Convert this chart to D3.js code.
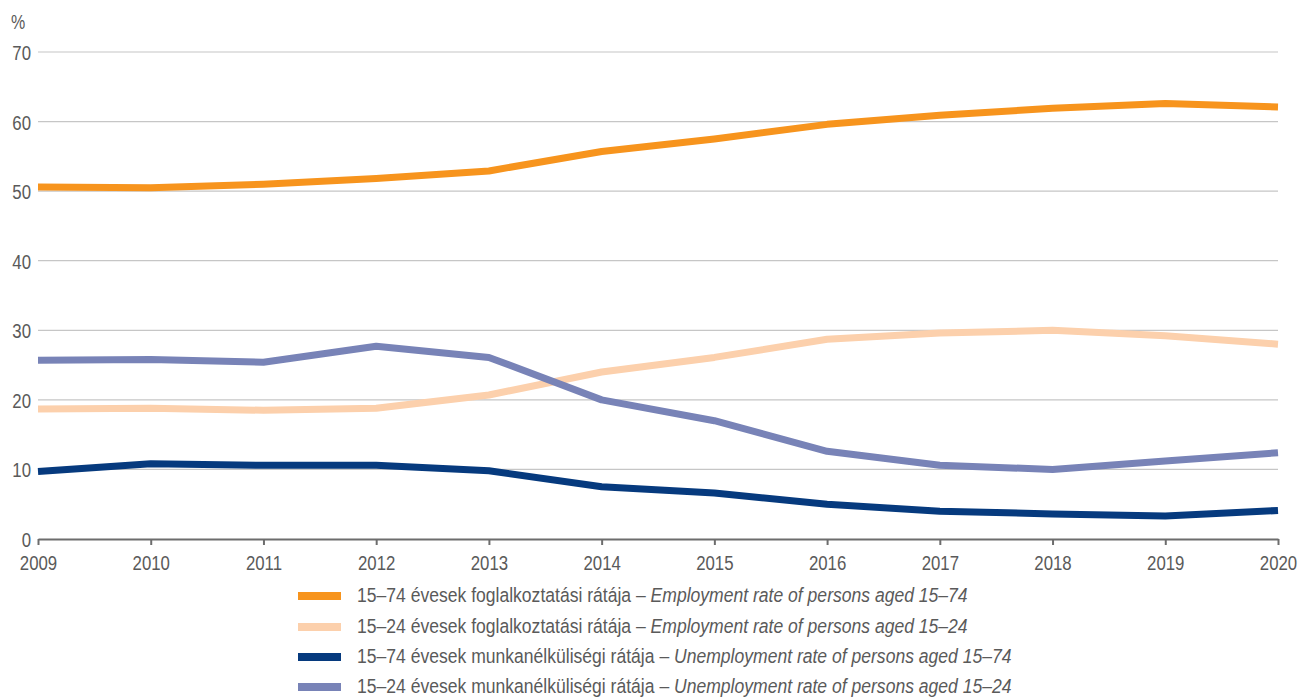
<!DOCTYPE html>
<html><head><meta charset="utf-8">
<script src="https://cdn.jsdelivr.net/npm/d3@7"></script>
<style>
html,body{margin:0;padding:0;background:#fff;}
svg{display:block;font-family:"Liberation Sans",Arial,sans-serif;}
</style></head>
<body><svg id="chart" width="1300" height="699"></svg>
<script>
const years = [2009,2010,2011,2012,2013,2014,2015,2016,2017,2018,2019,2020];
const emp1574 = [50.6,50.5,51.0,51.8,52.9,55.7,57.5,59.6,60.9,61.9,62.6,62.1];
const emp1524 = [18.7,18.8,18.5,18.8,20.7,24.0,26.1,28.7,29.6,30.0,29.2,28.0];
const unemp1574 = [9.7,10.8,10.6,10.6,9.8,7.5,6.6,5.0,4.0,3.6,3.3,4.1];
const unemp1524 = [25.7,25.8,25.4,27.7,26.1,20.0,17.0,12.6,10.6,10.0,11.2,12.4];
const yTicks = [0,10,20,30,40,50,60,70];
const seriesNamesHu = ["15–74 évesek foglalkoztatási rátája","15–24 évesek foglalkoztatási rátája","15–74 évesek munkanélküliségi rátája","15–24 évesek munkanélküliségi rátája"];
const seriesNamesEn = ["Employment rate of persons aged 15–74","Employment rate of persons aged 15–24","Unemployment rate of persons aged 15–74","Unemployment rate of persons aged 15–24"];
const colors = ["#f7941d","#fcd0ac","#063a7e","#7883b7"];

const series = [emp1574, emp1524, unemp1574, unemp1524];
const drawOrder = [0,1,3,2];

const svg = d3.select("#chart");
const x = d3.scaleLinear().domain([2009,2020]).range([38,1278]);
const y = d3.scaleLinear().domain([0,70]).range([539,52]);
const textCol = "#5a5a5a";
const narrow = 0.8;

// gridlines
svg.append("g").selectAll("line").data(yTicks.filter(d=>d>0)).join("line")
  .attr("x1",38).attr("x2",1278)
  .attr("y1",d=>y(d)).attr("y2",d=>y(d))
  .attr("stroke","#c6c6c6").attr("stroke-width",1.2);

// y labels
svg.append("g").selectAll("g").data(yTicks).join("g")
  .attr("transform",d=>`translate(31,${y(d)+8}) scale(${narrow},1)`)
  .append("text").attr("text-anchor","end").attr("font-size",21).attr("fill",textCol)
  .text(d=>d);
svg.append("g").attr("transform",`translate(11,29) scale(${narrow},1)`)
  .append("text").attr("font-size",20).attr("fill",textCol).text("%");

// lines
const line = d3.line().x((d,i)=>x(years[i])).y(d=>y(d));
svg.append("g").selectAll("path").data(drawOrder).join("path")
  .attr("d",i=>line(series[i]))
  .attr("fill","none").attr("stroke",i=>colors[i])
  .attr("stroke-width",7).attr("stroke-linejoin","round");

// x axis
const xAxis = d3.axisBottom(x).tickValues(years).tickFormat(d3.format("d")).tickSize(6).tickSizeOuter(0);
const gx = svg.append("g").attr("transform","translate(0,539)").call(xAxis);
gx.select(".domain").attr("stroke","#6d6d6d").attr("stroke-width",2);
gx.selectAll(".tick line").attr("stroke","#6d6d6d").attr("stroke-width",2);
gx.selectAll(".tick text").attr("font-size",21).attr("fill",textCol)
  .attr("font-family","\"Liberation Sans\",Arial,sans-serif")
  .attr("dy",null).attr("y",0)
  .attr("transform",`translate(0,31) scale(${narrow},1)`);

// legend
const lg = svg.append("g");
const legY = [596,627,657,687];
seriesNamesHu.forEach((name,i)=>{
  lg.append("rect").attr("x",298).attr("y",legY[i]-4).attr("width",43).attr("height",8).attr("fill",colors[i]);
  const t = lg.append("g").attr("transform",`translate(357,${legY[i]+6}) scale(0.9,1)`)
    .append("text").attr("font-size",19.5).attr("fill",textCol);
  t.append("tspan").text(name+" – ");
  t.append("tspan").attr("font-style","italic").text(seriesNamesEn[i]);
});
</script></body></html>
